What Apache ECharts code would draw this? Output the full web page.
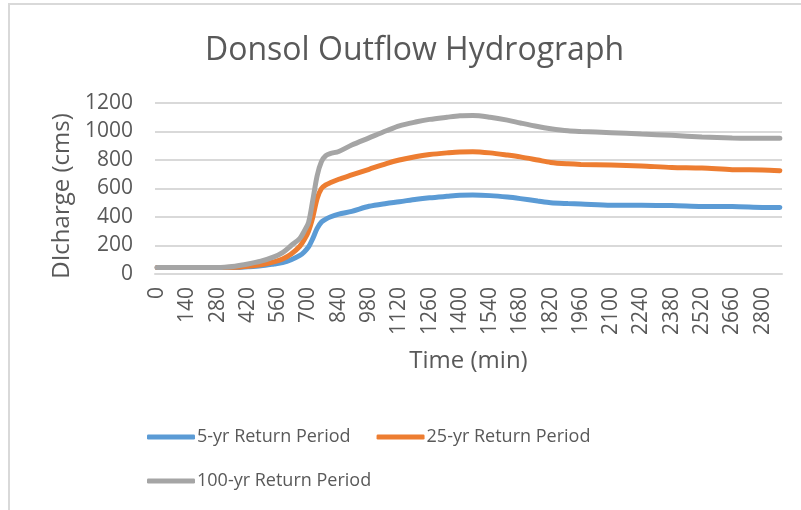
<!DOCTYPE html>
<html>
<head>
<meta charset="utf-8">
<script src="https://cdn.jsdelivr.net/npm/echarts@6/dist/echarts.min.js"></script>
<style>
  html, body { margin: 0; padding: 0; background: #fff; }
  #main { width: 801px; height: 510px; }
</style>
</head>
<body>
<div id="main"></div>
<script>
const myChart = echarts.init(document.getElementById('main'));

// time axis categories, every 20 min from 0 to 2880
const categories = [];
for (let t = 0; t <= 2880; t += 20) categories.push(String(t));

// read-off points (time in min) for the three hydrographs
const times = [0, 280, 360, 420, 480, 540, 580, 620, 660, 680, 700, 720, 740, 760, 780, 800, 840, 900, 980, 1060, 1120, 1200, 1260, 1340, 1400, 1460, 1540, 1620, 1680, 1760, 1820, 1900, 1960, 2100, 2240, 2380, 2520, 2660, 2800, 2880];
const q5 = [45, 45, 45, 50, 57, 70, 80, 100, 130, 155, 190, 250, 320, 365, 385, 400, 420, 440, 475, 495, 507, 525, 535, 545, 552, 554, 550, 540, 529, 512, 500, 494, 491, 483, 482, 480, 474, 473, 467, 466];
const q25 = [45, 45, 48, 55, 65, 85, 105, 140, 195, 240, 300, 400, 530, 600, 625, 640, 665, 695, 735, 775, 800, 825, 838, 850, 857, 858, 850, 835, 822, 800, 783, 773, 769, 765, 758, 748, 744, 732, 730, 725];
const q100 = [45, 45, 55, 70, 90, 120, 150, 200, 250, 300, 360, 520, 690, 790, 830, 845, 860, 905, 955, 1005, 1040, 1068, 1085, 1100, 1110, 1112, 1100, 1080, 1060, 1035, 1020, 1005, 1000, 992, 982, 973, 962, 955, 952, 952];

const seriesNames = ['5-yr Return Period', '25-yr Return Period', '100-yr Return Period'];
const colors = ['#5B9BD5', '#ED7D31', '#A5A5A5'];

function pairs(vals) {
    return times.map((t, i) => [String(t), vals[i]]);
}

const font = 'Open Sans';
const textColor = '#595959';

option = {
    animation: false,
    color: colors,
    title: {
        text: 'Donsol Outflow Hydrograph',
        left: 200,
        top: 30,
        textStyle: { fontFamily: font, fontSize: 32, fontWeight: 'normal', color: textColor }
    },
    graphic: [{
        type: 'rect',
        shape: { x: 9, y: 4, width: 830, height: 540 },
        style: { fill: 'none', stroke: '#d9d9d9', lineWidth: 2 }
    }],
    grid: { left: 155, right: 19, top: 103, bottom: 236 },
    legend: {
        data: seriesNames,
        left: 142,
        top: 423,
        width: 470,
        itemGap: 26,
        itemWidth: 48,
        itemHeight: 5,
        icon: 'roundRect',
        textStyle: { fontFamily: font, fontSize: 18, color: textColor, padding: [0, 0, 0, -3] }
    },
    xAxis: {
        type: 'category',
        data: categories,
        boundaryGap: true,
        name: 'Time (min)',
        nameLocation: 'middle',
        nameGap: 75,
        nameTextStyle: { fontFamily: font, fontSize: 24, color: textColor },
        axisLine: { lineStyle: { color: '#d9d9d9', width: 2 } },
        axisTick: { show: false },
        axisLabel: {
            interval: 6,
            rotate: 90,
            margin: 13,
            fontFamily: font, fontSize: 21, color: textColor
        }
    },
    yAxis: {
        type: 'value',
        min: 0,
        max: 1200,
        interval: 200,
        name: 'DIcharge (cms)',
        nameLocation: 'middle',
        nameGap: 77,
        nameTextStyle: { fontFamily: font, fontSize: 24, color: textColor, padding: [0, 15, 0, 0] },
        axisLine: { show: false },
        axisTick: { show: false },
        axisLabel: { margin: 22, fontFamily: font, fontSize: 21, color: textColor, formatter: v => String(v) },
        splitLine: { lineStyle: { color: '#d9d9d9', width: 2 } }
    },
    series: seriesNames.map((name, i) => ({
        name: name,
        type: 'line',
        data: pairs([q5, q25, q100][i]),
        showSymbol: false,
        smooth: 0.3,
        lineStyle: { width: 5, color: colors[i], cap: 'round' }
    }))
};

myChart.setOption(option);
</script>
</body>
</html>
